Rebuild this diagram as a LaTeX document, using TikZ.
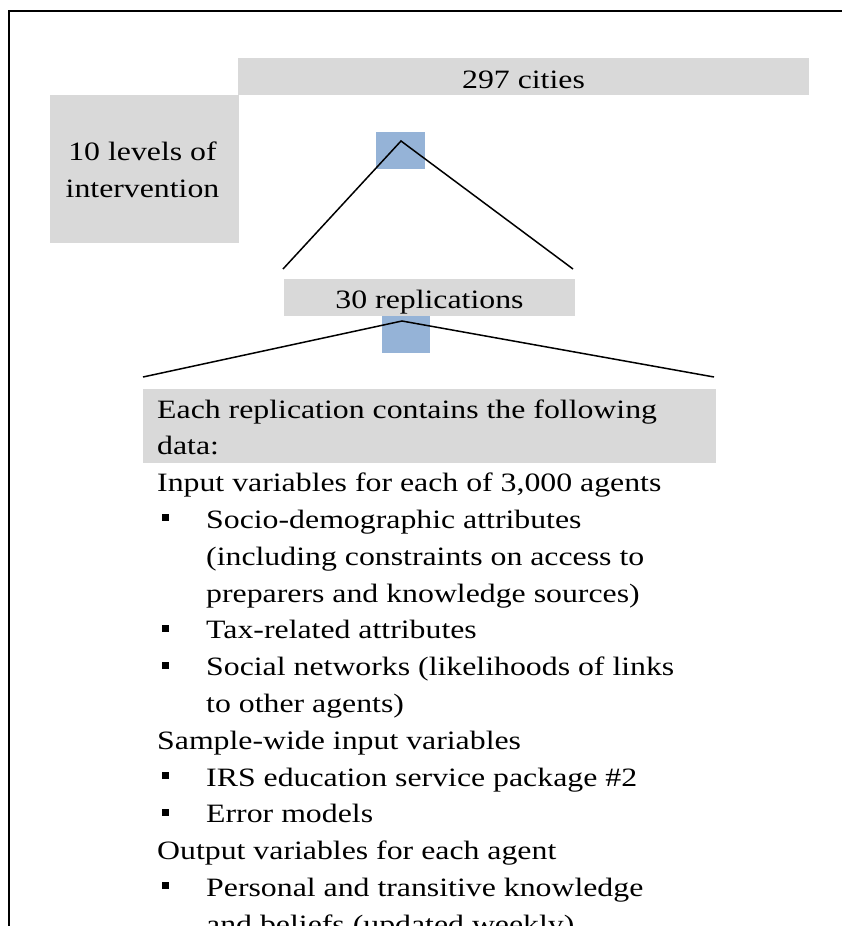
\documentclass[tikz,border=0pt]{standalone}
\usepackage{fontspec}
\setmainfont[FakeStretch=1.2]{Liberation Serif}
\definecolor{boxgray}{HTML}{D9D9D9}
\definecolor{boxblue}{HTML}{95B3D7}
\begin{document}
\begin{tikzpicture}[x=1pt,y=-1pt,
  panel/.style={fill=boxgray,draw=none,inner sep=0pt,anchor=north west},
  marker/.style={fill=boxblue,draw=none,inner sep=0pt,anchor=north west},
  txt/.style={font=\fontsize{26.5}{36.8}\selectfont,inner sep=0pt,anchor=base west},
  ctxt/.style={txt,anchor=base},
  bullet/.style={fill=black,draw=none,inner sep=0pt,minimum size=7pt},
  branch/.style={draw=black,line width=1.5pt},
  frame/.style={draw=black,line width=2.2pt}]
\useasboundingbox (0,0) rectangle (842,926);
\clip (0,0) rectangle (842,926);

% outer frame (top and left edges)
\draw[frame] (9,930) -- (9,11) -- (845,11);

% top level: cities and intervention levels
\node[panel,minimum width=571pt,minimum height=37pt] (cities) at (238,58) {};
\node[ctxt] (citiestxt) at (523.5,88) {297 cities};
\node[panel,minimum width=189pt,minimum height=148pt] (levels) at (50,95) {};
\node[ctxt] (levelstxt1) at (142.5,160) {10 levels of};
\node[ctxt] (levelstxt2) at (142.5,197) {intervention};

% first branching
\node[marker,minimum width=49pt,minimum height=37pt] (m1) at (376,132) {};
\coordinate (apex1) at (401,141);
\coordinate (b1l) at (283,269);
\coordinate (b1r) at (573,269);
\draw[branch] (b1l) -- (apex1) -- (b1r);

% replications
\node[panel,minimum width=291pt,minimum height=37pt] (reps) at (284,279) {};
\node[ctxt] (repstxt) at (429.5,308) {30 replications};

% second branching
\node[marker,minimum width=48pt,minimum height=37pt] (m2) at (382,316) {};
\coordinate (apex2) at (402,321);
\coordinate (b2l) at (143,377);
\coordinate (b2r) at (714,377);
\draw[branch] (b2l) -- (apex2) -- (b2r);

% replication contents
\node[panel,minimum width=573pt,minimum height=74pt] (data) at (143,389) {};
\def\bl{418}
\def\ls{36.8}
\node[txt] (l1) at (157,\bl) {Each replication contains the following};
\node[txt] (l2) at (157,\bl+\ls) {data:};
\node[txt] (l3) at (157,\bl+2*\ls) {Input variables for each of 3,000 agents};
\node[txt] (l4) at (206,\bl+3*\ls) {Socio-demographic attributes};
\node[txt] (l5) at (206,\bl+4*\ls) {(including constraints on access to};
\node[txt] (l6) at (206,\bl+5*\ls) {preparers and knowledge sources)};
\node[txt] (l7) at (206,\bl+6*\ls) {Tax-related attributes};
\node[txt] (l8) at (206,\bl+7*\ls) {Social networks (likelihoods of links};
\node[txt] (l9) at (206,\bl+8*\ls) {to other agents)};
\node[txt] (l10) at (157,\bl+9*\ls) {Sample-wide input variables};
\node[txt] (l11) at (206,\bl+10*\ls) {IRS education service package \#2};
\node[txt] (l12) at (206,\bl+11*\ls) {Error models};
\node[txt] (l13) at (157,\bl+12*\ls) {Output variables for each agent};
\node[txt] (l14) at (206,\bl+13*\ls) {Personal and transitive knowledge};
\node[txt] (l15) at (206,\bl+14*\ls) {and beliefs (updated weekly)};

% bullets
\foreach \k in {3,6,7,10,11,13}{
  \node[bullet] at (165,\bl+\k*\ls-10.5) {};
}
\end{tikzpicture}
\end{document}
